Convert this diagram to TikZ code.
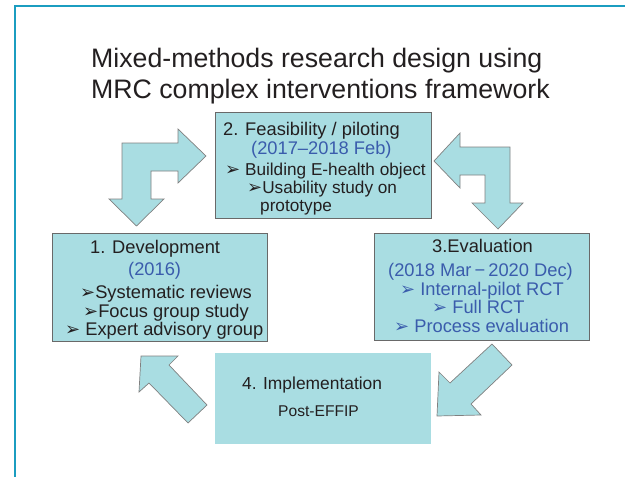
\documentclass[tikz,border=0pt]{standalone}
\usepackage{fontspec}
\setmainfont{Liberation Sans}
\newfontfamily\dingfont{DejaVu Sans}
\definecolor{frameblue}{RGB}{27,157,192}
\definecolor{boxfill}{RGB}{169,221,226}
\definecolor{boxline}{RGB}{105,105,105}
\definecolor{txtdark}{RGB}{35,31,32}
\definecolor{txtblue}{RGB}{58,92,172}
\newcommand\bul{{\dingfont\fontsize{18}{18}\selectfont ➢}}
\begin{document}
\begin{tikzpicture}[x=1pt, y=-1pt,
	box/.style={draw=boxline, fill=boxfill, line width=0.8pt, inner sep=0pt},
	blockarrow/.style={draw=gray, fill=boxfill, line width=0.7pt, line join=miter},
	txt/.style={anchor=base west, inner sep=0pt, text=txtdark, font=\fontsize{18.3}{20}\selectfont}]
	\useasboundingbox (0,0) rectangle (625,477);
	\draw[frameblue, line width=2pt] (15,477) -- (15,6) -- (625,6);
	\node[txt, font=\fontsize{26.7}{30}\selectfont] (title1) at (91,67) {Mixed-methods research design using};
	\node[txt, font=\fontsize{26.7}{30}\selectfont] (title2) at (91,98) {MRC complex interventions framework};
	\node[box, minimum width=216pt, minimum height=106pt] (feas) at (323,165) {};
	\node[box, minimum width=215pt, minimum height=108pt] (dev) at (159.5,287) {};
	\node[box, minimum width=215pt, minimum height=107pt] (eval) at (481.5,286.5) {};
	\node[box, draw=none, minimum width=216pt, minimum height=91pt] (impl) at (323,398.5) {};
	\draw[blockarrow] (122,143) -- (178,143) -- (178,129) -- (206,156) -- (178,183) -- (178,171) -- (151,171)
		-- (151,199) -- (164,199) -- (136.5,226) -- (109,199) -- (122,199) -- cycle;
	\draw[blockarrow] (510,147) -- (510,203) -- (523,203) -- (498,229) -- (472,203) -- (485,203) -- (485,175)
		-- (460,175) -- (460,188) -- (434,161) -- (460,133) -- (460,147) -- cycle;
	\draw[blockarrow] (437,416) -- (439,372) -- (450,383) -- (492,344) -- (512,365) -- (471,404) -- (481,415) -- cycle;
	\draw[blockarrow] (141,356) -- (178,356) -- (169,365) -- (207,405) -- (188,423) -- (149,383) -- (139,392) -- cycle;
	\node[txt] (feas1) at (223,135) {2. Feasibility / piloting};
	\node[txt, text=txtblue] (feas2) at (251,154) {(2017--2018 Feb)};
	\foreach \n/\x/\y/\t in {3/225/175/{\bul\ Building E-health object}, 4/247/193/{\bul Usability study on}, 5/260/211/{prototype}}
	{
		\node[txt, font=\fontsize{17.2}{19}\selectfont] (feas\n) at (\x,\y) {\t};
	}
	\node[txt] (dev1) at (90,253) {1. Development};
	\node[txt, text=txtblue] (dev2) at (128,275) {(2016)};
	\foreach \n/\x/\y/\t in {3/80/298/{\bul Systematic reviews}, 4/83/317/{\bul Focus group study}, 5/65/335/{\bul\ Expert advisory group}}
	{
		\node[txt] (dev\n) at (\x,\y) {\t};
	}
	\node[txt] (eval1) at (432,252) {3.Evaluation};
	\foreach \n/\x/\y/\t in {2/388/276/{(2018 Mar\,−\,2020 Dec)}, 3/400/295/{\bul\ Internal-pilot RCT}, 4/432/313/{\bul\ Full RCT}, 5/394/332/{\bul\ Process evaluation}}
	{
		\node[txt, text=txtblue] (eval\n) at (\x,\y) {\t};
	}
	\node[txt, font=\fontsize{17.4}{19}\selectfont] (impl1) at (242,389) {4. Implementation};
	\node[txt, font=\fontsize{15.6}{17}\selectfont] (impl2) at (278,416) {Post-EFFIP};
\end{tikzpicture}
\end{document}
